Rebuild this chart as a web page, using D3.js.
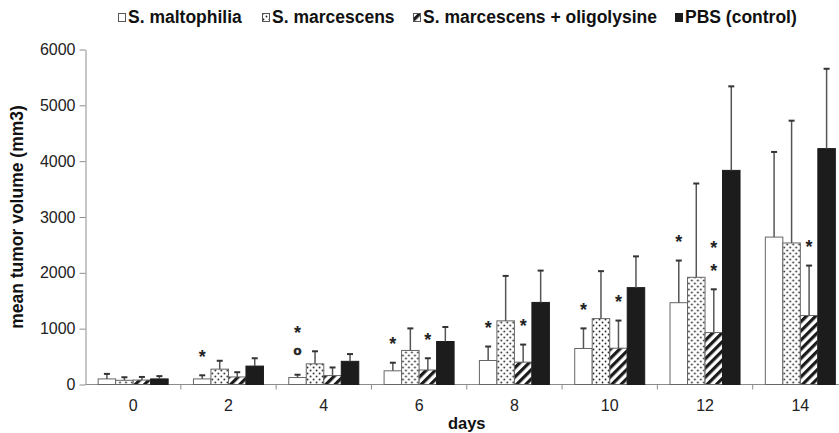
<!DOCTYPE html>
<html>
<head>
<meta charset="utf-8">
<script src="https://cdn.jsdelivr.net/npm/d3@7"></script>
<style>
  body { margin: 0; background: #fff; }
  svg { display: block; }
</style>
</head>
<body>
<svg id="chart" width="839" height="433"></svg>
<script>
// Tumour volume by day after treatment, four groups
const days = ["0", "2", "4", "6", "8", "10", "12", "14"];
const seriesNames = ["S. maltophilia", "S. marcescens", "S. marcescens + oligolysine", "PBS (control)"];

const maltophiliaMean = [100, 100, 125, 245, 430, 645, 1465, 2640];
const maltophiliaSD   = [90, 65, 50, 145, 250, 360, 755, 1525];
const marcescensMean  = [75, 275, 370, 610, 1140, 1180, 1920, 2535];
const marcescensSD    = [55, 150, 225, 395, 805, 850, 1680, 2190];
const oligolysineMean = [80, 135, 160, 260, 400, 650, 930, 1235];
const oligolysineSD   = [55, 85, 145, 210, 315, 495, 775, 895];
const pbsMean         = [100, 330, 415, 770, 1470, 1735, 3835, 4225];
const pbsSD           = [50, 140, 130, 260, 570, 560, 1505, 1430];

const yTicks = [0, 1000, 2000, 3000, 4000, 5000, 6000];

// significance markers, stacked upwards above the error bar of the given series
const markDays    = ["2", "4", "6", "6", "8", "8", "10", "10", "12", "12", "14"];
const markSeries  = [0, 0, 0, 2, 0, 2, 0, 2, 0, 2, 2];
const markSymbols = [["*"], ["o", "*"], ["*"], ["*"], ["*"], ["*"], ["*"], ["*"], ["*"], ["*", "*"], ["*"]];

const means = [maltophiliaMean, marcescensMean, oligolysineMean, pbsMean];
const sds = [maltophiliaSD, marcescensSD, oligolysineSD, pbsSD];

const rows = [];
days.forEach((d, i) => {
  seriesNames.forEach((s, j) => {
    rows.push({ day: d, series: j, mean: means[j][i], sd: sds[j][i] });
  });
});

const svg = d3.select("#chart");
const axisColor = "#8c8c8c";
const fontFamily = "'Liberation Sans', Arial, Helvetica, sans-serif";

// fill patterns
const defs = svg.append("defs");
const dots = defs.append("pattern")
  .attr("id", "dots").attr("patternUnits", "userSpaceOnUse")
  .attr("width", 6).attr("height", 6);
dots.append("rect").attr("width", 6).attr("height", 6).attr("fill", "#fff");
dots.append("circle").attr("cx", 1.5).attr("cy", 1.5).attr("r", 0.9).attr("fill", "#222");
dots.append("circle").attr("cx", 4.5).attr("cy", 4.5).attr("r", 0.9).attr("fill", "#222");

const hatch = defs.append("pattern")
  .attr("id", "hatch").attr("patternUnits", "userSpaceOnUse")
  .attr("width", 6.5).attr("height", 6.5)
  .attr("patternTransform", "rotate(45)");
hatch.append("rect").attr("width", 6.5).attr("height", 6.5).attr("fill", "#fff");
hatch.append("rect").attr("width", 3.2).attr("height", 6.5).attr("fill", "#1a1a1a");

const fills = ["#fff", "url(#dots)", "url(#hatch)", "#1c1c1c"];

// scales
const x0 = d3.scaleBand().domain(days).range([85.5, 848]).paddingInner(0).paddingOuter(0);
const x1 = d3.scaleBand().domain(d3.range(seriesNames.length))
  .range([0, x0.bandwidth()]).paddingInner(0).paddingOuter(0.723);
const y = d3.scaleLinear().domain([0, 6000]).range([384.5, 49.5]);

// y axis
const yAxis = svg.append("g")
  .attr("transform", `translate(${x0.range()[0]},0)`)
  .call(d3.axisLeft(y).tickValues(yTicks).tickFormat(d3.format("d"))
    .tickSize(6).tickPadding(4).tickSizeOuter(0));
yAxis.select(".domain").attr("stroke", axisColor);
yAxis.selectAll(".tick line").attr("stroke", axisColor);
yAxis.selectAll(".tick text")
  .attr("font-family", fontFamily).attr("font-size", 16).attr("fill", "#222");

// x axis: labels at group centres, ticks at group boundaries
const xAxis = svg.append("g")
  .attr("transform", `translate(0,${y(0)})`)
  .call(d3.axisBottom(x0).tickSize(0).tickPadding(15).tickSizeOuter(0));
xAxis.select(".domain").attr("stroke", axisColor).attr("d", `M${x0.range()[0]},0H839`);
xAxis.selectAll(".tick text")
  .attr("font-family", fontFamily).attr("font-size", 16).attr("fill", "#222");
xAxis.selectAll(".boundary")
  .data(days.slice(1))
  .enter().append("line")
  .attr("class", "boundary")
  .attr("x1", d => x0(d)).attr("x2", d => x0(d))
  .attr("y1", 0).attr("y2", 5)
  .attr("stroke", axisColor);

// bars
const groups = svg.append("g").selectAll("g")
  .data(days).enter().append("g")
  .attr("transform", d => `translate(${x0(d)},0)`);

groups.selectAll("rect")
  .data(d => rows.filter(r => r.day === d))
  .enter().append("rect")
  .attr("x", r => x1(r.series))
  .attr("width", x1.bandwidth())
  .attr("y", r => y(r.mean))
  .attr("height", r => y(0) - y(r.mean))
  .attr("fill", r => fills[r.series])
  .attr("stroke", r => r.series === 3 ? "#1c1c1c" : "#666")
  .attr("stroke-width", 1);

// error bars (upper only)
const err = groups.selectAll("g.err")
  .data(d => rows.filter(r => r.day === d))
  .enter().append("g").attr("class", "err");
err.append("line")
  .attr("x1", r => x1(r.series) + x1.bandwidth() / 2)
  .attr("x2", r => x1(r.series) + x1.bandwidth() / 2)
  .attr("y1", r => y(r.mean))
  .attr("y2", r => y(r.mean + r.sd))
  .attr("stroke", "#555").attr("stroke-width", 1.5);
err.append("line")
  .attr("x1", r => x1(r.series) + x1.bandwidth() / 2 - 3)
  .attr("x2", r => x1(r.series) + x1.bandwidth() / 2 + 3)
  .attr("y1", r => y(r.mean + r.sd))
  .attr("y2", r => y(r.mean + r.sd))
  .attr("stroke", "#333").attr("stroke-width", 2);

// significance symbols
const starSize = 18, circleSize = 13;
const symbolLayer = svg.append("g");
markDays.forEach((d, k) => {
  const s = markSeries[k];
  const i = days.indexOf(d);
  const cx = x0(d) + x1(s) + x1.bandwidth() / 2;
  const top = y(means[s][i] + sds[s][i]);
  markSymbols[k].forEach((sym, m) => {
    const isStar = sym === "*";
    const cy = top - 23 - 23 * m;
    symbolLayer.append("text")
      .attr("x", cx)
      .attr("y", cy + (isStar ? 0.575 * starSize : 0.26 * circleSize))
      .attr("text-anchor", "middle")
      .attr("font-family", fontFamily)
      .attr("font-weight", "bold")
      .attr("font-size", isStar ? starSize : circleSize)
      .attr("fill", "#222")
      .attr("stroke", isStar ? "none" : "#222")
      .attr("stroke-width", 0.6)
      .text(sym);
  });
});

// axis titles
svg.append("text")
  .attr("transform", `translate(23,${(y(0) + y(6000)) / 2}) rotate(-90)`)
  .attr("text-anchor", "middle")
  .attr("font-family", fontFamily).attr("font-weight", "bold").attr("font-size", 17.5)
  .attr("fill", "#111")
  .text("mean tumor volume (mm3)");

svg.append("text")
  .attr("x", (x0.range()[0] + x0.range()[1]) / 2)
  .attr("y", 429)
  .attr("text-anchor", "middle")
  .attr("font-family", fontFamily).attr("font-weight", "bold").attr("font-size", 16.5)
  .attr("fill", "#111")
  .text("days");

// legend
const legendX = [118, 262, 413, 675];
const legend = svg.append("g").selectAll("g")
  .data(seriesNames).enter().append("g")
  .attr("transform", (d, i) => `translate(${legendX[i]},0)`);
legend.append("rect")
  .attr("x", 0.5).attr("y", 13.5).attr("width", 7).attr("height", 8)
  .attr("fill", (d, i) => fills[i])
  .attr("stroke", (d, i) => i === 3 ? "#1c1c1c" : "#555");
legend.append("text")
  .attr("x", 10).attr("y", 23)
  .attr("font-family", fontFamily).attr("font-weight", "bold").attr("font-size", 17.5)
  .attr("fill", "#111")
  .text(d => d);
</script>
</body>
</html>
